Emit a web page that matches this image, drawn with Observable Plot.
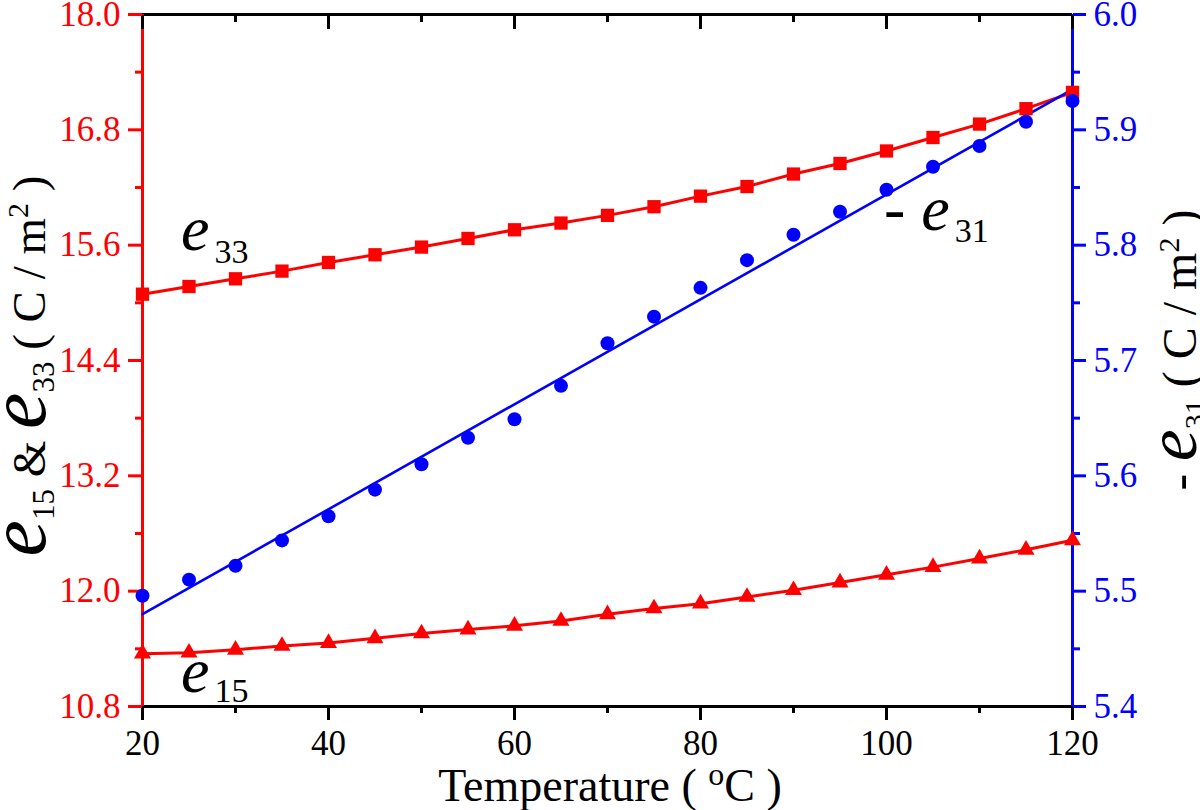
<!DOCTYPE html>
<html>
<head>
<meta charset="utf-8">
<script src="https://cdn.jsdelivr.net/npm/d3@7"></script>
<script src="https://cdn.jsdelivr.net/npm/@observablehq/plot@0.6"></script>
<style>
  html, body { margin: 0; padding: 0; background: #fff; }
  #chart { width: 1200px; height: 810px; font-family: "Liberation Serif"; }
</style>
</head>
<body>
<div id="chart"></div>
<script>
// ---------------- data ----------------
const temperature = [20, 25, 30, 35, 40, 45, 50, 55, 60, 65, 70, 75, 80, 85, 90, 95, 100, 105, 110, 115, 120];
const e33 = [15.09, 15.17, 15.25, 15.33, 15.42, 15.50, 15.58, 15.67, 15.76, 15.83, 15.91, 16.00, 16.11, 16.21, 16.34, 16.45, 16.58, 16.72, 16.86, 17.02, 17.19];
const e15 = [11.35, 11.36, 11.39, 11.43, 11.46, 11.51, 11.56, 11.60, 11.64, 11.69, 11.76, 11.82, 11.87, 11.94, 12.01, 12.09, 12.17, 12.25, 12.34, 12.43, 12.53];
const e31neg = [5.496, 5.510, 5.522, 5.544, 5.565, 5.588, 5.610, 5.633, 5.649, 5.678, 5.715, 5.738, 5.763, 5.787, 5.809, 5.829, 5.848, 5.868, 5.886, 5.907, 5.925];
const fitTemperature = [20, 120];
const e31negFit = [5.480, 5.935];

const xTicks = [20, 40, 60, 80, 100, 120];
const xMinorTicks = [30, 50, 70, 90, 110];
const leftTicks = [10.8, 12.0, 13.2, 14.4, 15.6, 16.8, 18.0];
const leftMinorTicks = [11.4, 12.6, 13.8, 15.0, 16.2, 17.4];
const rightTicks = [5.4, 5.5, 5.6, 5.7, 5.8, 5.9, 6.0];
const rightMinorTicks = [5.45, 5.55, 5.65, 5.75, 5.85, 5.95];

// ---------------- dual axis mapping ----------------
const L0 = 10.8, L1 = 18.0, R0 = 5.4, R1 = 6.0;
const toLeft = v => L0 + (v - R0) * (L1 - L0) / (R1 - R0);
const toRight = v => R0 + (v - L0) * (R1 - R0) / (L1 - L0);

const rows = temperature.map((t, i) => ({t, e33: e33[i], e15: e15[i], e31: toLeft(e31neg[i])}));
const fitRows = fitTemperature.map((t, i) => ({t, e31: toLeft(e31negFit[i])}));

const RED = "#ff0000", BLUE = "#0000ff";
const FONT = "Liberation Serif";

const plot = Plot.plot({
  width: 1200,
  height: 810,
  marginLeft: 142,
  marginRight: 128,
  marginTop: 14,
  marginBottom: 104,
  x: {domain: [20, 120]},
  y: {domain: [L0, L1]},
  style: {background: "white", color: "black"},
  marks: [
    // frame lines
    Plot.ruleY([L0], {stroke: "black", strokeWidth: 3}),
    Plot.ruleY([L1], {stroke: "black", strokeWidth: 3}),
    Plot.ruleX([20], {stroke: RED, strokeWidth: 3}),
    Plot.ruleX([120], {stroke: BLUE, strokeWidth: 3}),

    // bottom axis
    Plot.axisX({ticks: xTicks, tickSize: 14, tickPadding: 10, fontSize: 35, fontFamily: FONT, strokeWidth: 3, stroke: "black", fill: "black", label: null}),
    Plot.axisX({ticks: xMinorTicks, tickSize: 7, strokeWidth: 3, stroke: "black", fill: "none", label: null}),
    // top axis (inward ticks)
    Plot.axisX({anchor: "top", ticks: xTicks, tickSize: -14, strokeWidth: 3, stroke: "black", fill: "none", label: null}),
    Plot.axisX({anchor: "top", ticks: xMinorTicks, tickSize: -7, strokeWidth: 3, stroke: "black", fill: "none", label: null}),

    // left axis
    Plot.axisY({ticks: leftTicks, tickSize: 14, tickPadding: 8, fontSize: 35, fontFamily: FONT, strokeWidth: 3, stroke: RED, fill: RED, tickFormat: d => d.toFixed(1), label: null}),
    Plot.axisY({ticks: leftMinorTicks, tickSize: 7, strokeWidth: 3, stroke: RED, fill: "none", label: null}),

    // right axis
    Plot.axisY({anchor: "right", ticks: rightTicks.map(toLeft), tickSize: 13, tickPadding: 8, fontSize: 35, fontFamily: FONT, strokeWidth: 3, stroke: BLUE, fill: BLUE, tickFormat: d => toRight(d).toFixed(1), label: null}),
    Plot.axisY({anchor: "right", ticks: rightMinorTicks.map(toLeft), tickSize: 7, strokeWidth: 3, stroke: BLUE, fill: "none", label: null}),

    // series
    Plot.line(rows, {x: "t", y: "e33", stroke: RED, strokeWidth: 3}),
    Plot.line(rows, {x: "t", y: "e15", stroke: RED, strokeWidth: 3}),
    Plot.line(fitRows, {x: "t", y: "e31", stroke: BLUE, strokeWidth: 2.6}),
    Plot.dot(rows, {x: "t", y: "e33", symbol: "square", r: 7.5, fill: RED}),
    Plot.dot(rows, {x: "t", y: "e15", symbol: "triangle", r: 6.3, fill: RED}),
    Plot.dot(rows, {x: "t", y: "e31", symbol: "circle", r: 7, fill: BLUE})
  ]
});

document.getElementById("chart").appendChild(plot);

// ---------------- rich text labels ----------------
const svg = d3.select(plot);
svg.attr("font-family", FONT);

function richText(x, y, rotate, anchor, parts) {
  const t = svg.append("text")
    .attr("transform", `translate(${x},${y})` + (rotate ? ` rotate(${rotate})` : ""))
    .attr("text-anchor", anchor)
    .attr("font-family", FONT)
    .attr("fill", "black")
    .style("white-space", "pre");
  for (const p of parts) {
    const s = t.append("tspan").text(p.text).attr("font-size", p.size).attr("font-family", FONT);
    if (p.italic) s.attr("font-style", "italic");
    if (p.dy) s.attr("dy", p.dy);
    if (p.dx) s.attr("dx", p.dx);
  }
  return t;
}

// left axis title
richText(45, 366, -90, "middle", [
  {text: "e", size: 82, italic: true},
  {text: "15", size: 31, dy: 9},
  {text: " & ", size: 47, dy: -9},
  {text: "e", size: 82, italic: true},
  {text: "33", size: 31, dy: 9},
  {text: " ( C / m", size: 47, dy: -9},
  {text: "2", size: 30, dy: -17},
  {text: " )", size: 47, dy: 17}
]);

// right axis title
richText(1196, 350, -90, "middle", [
  {text: "- ", size: 50},
  {text: "e", size: 72, italic: true},
  {text: "31", size: 30, dy: 9},
  {text: " ( C / m", size: 48, dy: -9},
  {text: "2", size: 30, dy: -17},
  {text: " )", size: 48, dy: 17}
]);

// x axis title
richText(610, 801, 0, "middle", [
  {text: "Temperature ( ", size: 46},
  {text: "o", size: 32, dy: -16},
  {text: "C )", size: 46, dy: 16}
]);

// in-plot series labels
richText(181, 250, 0, "start", [
  {text: "e", size: 64, italic: true},
  {text: "33", size: 34, dx: 5, dy: 13}
]);
richText(884, 230, 0, "start", [
  {text: "- ", size: 64},
  {text: "e", size: 64, italic: true},
  {text: "31", size: 34, dx: 5, dy: 12}
]);
richText(181, 692, 0, "start", [
  {text: "e", size: 64, italic: true},
  {text: "15", size: 34, dx: 5, dy: 10}
]);

// make sure every text uses the serif face
svg.selectAll("text, tspan").attr("font-family", FONT);
</script>
</body>
</html>
